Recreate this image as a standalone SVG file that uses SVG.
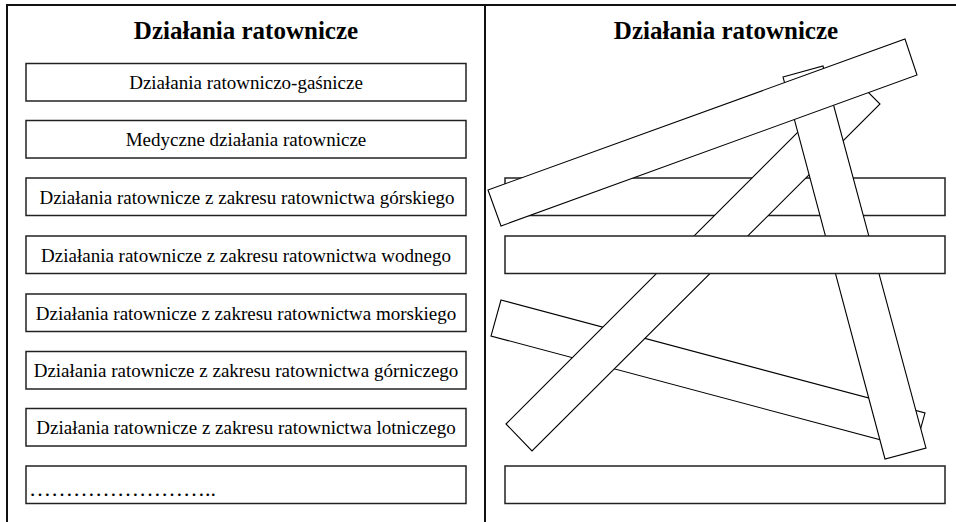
<svg xmlns="http://www.w3.org/2000/svg" width="956" height="522" viewBox="0 0 956 522">
<style>
.frame{stroke:#111;stroke-width:2;fill:none}
.box{fill:#fff;stroke:#222;stroke-width:1.5}
.plank{fill:#fff;stroke:#000;stroke-width:1.1;stroke-linejoin:miter}
.title{font-family:"Liberation Serif","Times New Roman",serif;font-weight:bold;font-size:25px;text-anchor:middle;fill:#000}
.lbl{font-family:"Liberation Serif","Times New Roman",serif;font-size:19px;text-anchor:middle;fill:#000}
</style>
<rect width="956" height="522" fill="#fff"/>
<g id="frame">
<line class="frame" x1="6" y1="5" x2="956" y2="5"/>
<line class="frame" x1="7" y1="4" x2="7" y2="522"/>
<line class="frame" x1="485" y1="4" x2="485" y2="522"/>
</g>
<g id="left-panel">
<text class="title" x="246" y="39">Działania ratownicze</text>
<g id="l1"><rect class="box" x="26" y="63.5" width="440" height="37.5"/><text class="lbl" x="246" y="89">Działania ratowniczo-gaśnicze</text></g>
<g id="l2"><rect class="box" x="26" y="120.5" width="440" height="37.5"/><text class="lbl" x="246" y="146">Medyczne działania ratownicze</text></g>
<g id="l3"><rect class="box" x="26" y="178" width="440" height="37.5"/><text class="lbl" x="247" y="204">Działania ratownicze z zakresu ratownictwa górskiego</text></g>
<g id="l4"><rect class="box" x="26" y="236" width="440" height="37.5"/><text class="lbl" x="246" y="262">Działania ratownicze z zakresu ratownictwa wodnego</text></g>
<g id="l5"><rect class="box" x="26" y="294" width="440" height="37.5"/><text class="lbl" x="246" y="320">Działania ratownicze z zakresu ratownictwa morskiego</text></g>
<g id="l6"><rect class="box" x="26" y="351.5" width="440" height="37.5"/><text class="lbl" x="246" y="377">Działania ratownicze z zakresu ratownictwa górniczego</text></g>
<g id="l7"><rect class="box" x="26" y="408.5" width="440" height="37.5"/><text class="lbl" x="246" y="434">Działania ratownicze z zakresu ratownictwa lotniczego</text></g>
<g id="l8"><rect class="box" x="26" y="466" width="440" height="37.5"/><text x="29" y="496" font-family="'Liberation Serif','Times New Roman',serif" font-size="22">……………………..</text></g>
</g>
<g id="right-panel">
<text class="title" x="726" y="39">Działania ratownicze</text>
<g id="r1"><rect class="box" x="505" y="178" width="440" height="37.5"/></g>
<g id="p4"><polygon class="plank" points="501,300 925,413 915,449 491,336"/></g>
<g id="p2"><polygon class="plank" points="506,424 853,77 880,104 532,451"/></g>
<g id="p3"><polygon class="plank" points="783,77 823,66 926,448 885,459"/></g>
<g id="p1"><polygon class="plank" points="488,190 905,39 917,75 501,226"/></g>
<g id="r2"><rect class="box" x="505" y="236" width="440" height="37.5"/></g>
<g id="r3"><rect class="box" x="505" y="466" width="440" height="37.5"/></g>
</g>
</svg>
